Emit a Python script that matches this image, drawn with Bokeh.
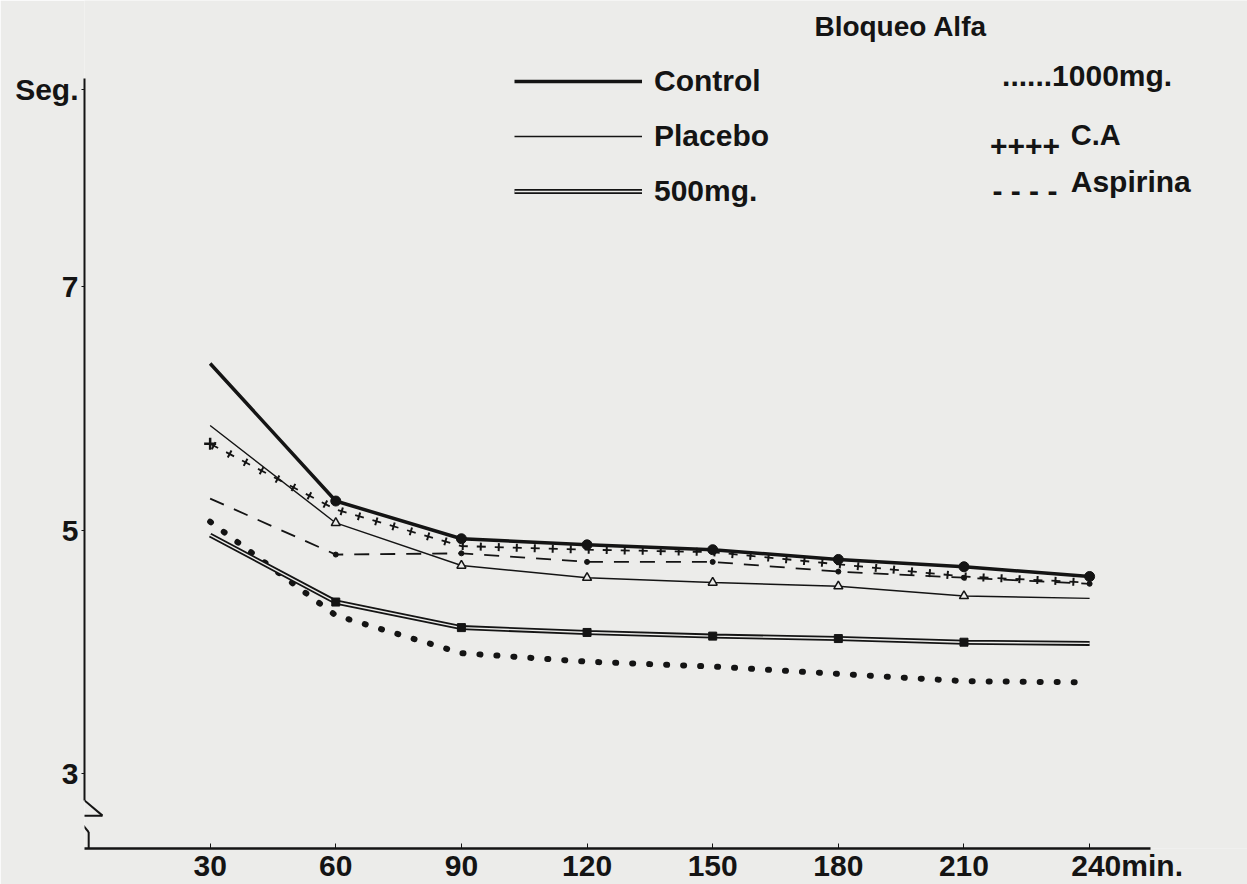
from bokeh.plotting import figure
from bokeh.models import FixedTicker, Label, Legend, LegendItem, Arrow, Range1d
from bokeh.embed import file_html
from bokeh.resources import INLINE

# ---- data ----
minutes = [30, 60, 90, 120, 150, 180, 210, 240]
control = [6.37, 5.24, 4.93, 4.88, 4.84, 4.76, 4.70, 4.62]
placebo = [5.86, 5.06, 4.71, 4.61, 4.57, 4.54, 4.46, 4.44]
mg500 = [4.96, 4.41, 4.20, 4.16, 4.13, 4.11, 4.08, 4.07]
mg1000 = [5.07, 4.30, 3.99, 3.92, 3.88, 3.82, 3.76, 3.75]
ca = [5.71, 5.17, 4.87, 4.84, 4.82, 4.72, 4.62, 4.57]
aspirina = [5.26, 4.80, 4.81, 4.74, 4.74, 4.66, 4.61, 4.56]

x_ticks = [30, 60, 90, 120, 150, 180, 210, 240]
y_ticks = [3, 5, 7]
title_text = "Bloqueo Alfa"
y_label = "Seg."
x_unit = "min."

INK = "#141414"
PAPER = "#ececea"
FONT = "Liberation Sans"
NB = "\u00a0"

Y_TOP = 8.713      # top of the drawn y axis
X_END = 254.6      # right end of the drawn x axis
SEG_POS = 8.62     # where the "Seg." caption sits on the y axis

p = figure(width=1247, height=884, output_backend="svg", toolbar_location=None,
           x_range=Range1d(0, 277.7), y_range=Range1d(2.385, 9.3525),
           min_border_left=84, min_border_right=0, min_border_top=0,
           min_border_bottom=34, tools="")
p.background_fill_color = PAPER
p.border_fill_color = PAPER
p.outline_line_color = None
p.grid.visible = False

# axes
p.xaxis.ticker = FixedTicker(ticks=x_ticks)
p.yaxis.ticker = FixedTicker(ticks=y_ticks + [SEG_POS])
p.yaxis.major_label_overrides = {SEG_POS: y_label}
p.xaxis.major_label_overrides = {240: NB * 9 + "240" + x_unit}
for ax in (p.xaxis, p.yaxis):
    ax.axis_line_color = INK
    ax.major_tick_line_color = INK
    ax.minor_tick_line_color = None
    ax.major_label_text_font = FONT
    ax.major_label_text_font_style = "bold"
    ax.major_label_text_color = INK
    ax.major_label_text_font_size = "30px"
p.xaxis.bounds = (0, X_END)
p.xaxis.axis_line_width = 2.5
p.xaxis.major_tick_in = 5
p.xaxis.major_tick_out = 0
p.xaxis.major_tick_line_width = 1
p.xaxis.major_label_standoff = 0
p.yaxis.bounds = (2.78, Y_TOP)
p.yaxis.axis_line_width = 2
p.yaxis.major_tick_in = 0
p.yaxis.major_tick_out = 3
p.yaxis.major_label_standoff = 3

# axis break (zig-zag)
zz = [(0, 2.78, 4.3, 2.655), (4.3, 2.655, -2.2, 2.655), (-2.2, 2.655, 1.0, 2.52), (1.0, 2.52, 1.0, 2.385)]
for x0, y0, x1, y1 in zz:
    p.add_layout(Arrow(end=None, x_start=x0, y_start=y0, x_end=x1, y_end=y1,
                       line_color=INK, line_width=2))

# series
r_1000 = p.line(minutes, mg1000, line_color=INK, line_width=6, line_dash="1 16", line_cap="round")
r_500a = p.line(minutes, mg500, line_color=INK, line_width=5)
r_500b = p.line(minutes, mg500, line_color=PAPER, line_width=1.4)
p.scatter(minutes[1:7], mg500[1:7], marker="square", size=8, color=INK)
r_asp = p.line(minutes, aspirina, line_color=INK, line_width=1.8, line_dash="15 11")
p.scatter(minutes[1:], aspirina[1:], marker="circle", size=5, color=INK)
# C.A: a chain of little crosses (long thin dash + short thick stub across it)
r_ca = p.line(minutes, ca, line_color=INK, line_width=1.8, line_dash="9 9")
p.line(minutes, ca, line_color=INK, line_width=8, line_dash="2 16", line_dash_offset=15)
p.scatter(minutes[:1], ca[:1], marker="cross", size=12, line_width=2.5, line_color=INK)
r_pla = p.line(minutes, placebo, line_color=INK, line_width=1.4)
p.scatter(minutes[1:7], placebo[1:7], marker="triangle", size=9, line_color=INK,
          line_width=1.5, fill_color=PAPER)
r_ctl = p.line(minutes, control, line_color=INK, line_width=3.5)
p.scatter(minutes[1:], control[1:], marker="circle", size=10, color=INK)

# legend (left column)
leg = Legend(items=[LegendItem(label="Control", renderers=[r_ctl]),
                    LegendItem(label="Placebo", renderers=[r_pla]),
                    LegendItem(label="500mg.", renderers=[r_500a, r_500b])],
             location=(430, 640), orientation="vertical",
             glyph_width=128, glyph_height=34, label_height=34, spacing=21,
             label_standoff=12, padding=0, margin=0,
             border_line_color=None, background_fill_alpha=0,
             label_text_font=FONT, label_text_font_style="bold",
             label_text_font_size="30px", label_text_color=INK)
p.add_layout(leg, "center")

def lab(text, x, y, size, align="left"):
    p.add_layout(Label(x=x, y=y, text=text, text_font=FONT, text_font_style="bold",
                       text_font_size=size, text_color=INK, text_align=align,
                       text_baseline="middle"))

# right column of the key, typed characters
lab("......1000mg.", 219.1, 8.738, "30px")
lab("++++", 216.2, 8.156, "30px")
lab("C.A", 235.5, 8.246, "29px")
lab("- - - -", 216.8, 7.79, "30px")
lab("Aspirina", 235.5, 7.865, "30px")

lab(title_text, 194.9, 9.139, "28px", align="center")

open("out.html", "w").write(file_html(p, INLINE))
